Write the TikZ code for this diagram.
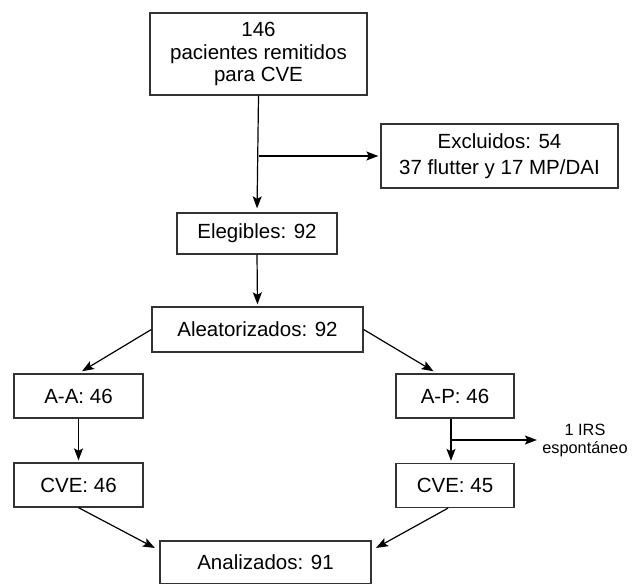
\documentclass[tikz,border=0pt]{standalone}
\usepackage{fontspec}
\setmainfont{Liberation Sans}
\usetikzlibrary{arrows.meta}
\tikzset{etapa/.style={draw=black!80, line width=1.3pt, minimum height=44pt, inner sep=0pt, align=center, font=\fontsize{20.5}{22.5}\selectfont},
         flecha/.style={-{Stealth[length=12pt,width=9pt,inset=2.5pt]}, line width=1.2pt, shorten >=2pt},
         nota/.style={align=center, font=\fontsize{16.3}{18}\selectfont},
        }

\begin{document}
\begin{tikzpicture}[x=1pt,y=-1pt]
        \useasboundingbox (0,0) rectangle (639,583);

        \node[etapa, minimum width=217pt, minimum height=82pt](rem)at(258.5,54){146\\pacientes remitidos\\para CVE};
        \node[etapa, minimum width=237pt, minimum height=64pt](exc)at(499.5,156){Excluidos: 54\\[3pt]37 flutter y 17 MP/DAI};
        \node[etapa, minimum width=160pt, minimum height=41pt](ele)at(257,233.5){Elegibles: 92};
        \node[etapa, minimum width=211pt, minimum height=45pt](ale)at(257.5,329.5){Aleatorizados: 92};

        \node[etapa, minimum width=129pt](aa)at(78.5,396){A-A: 46};
        \node[etapa, minimum width=118pt](ap)at(455,396){A-P: 46};
        \node[etapa, minimum width=129pt](cva)at(78.5,485){CVE: 46};
        \node[etapa, minimum width=118pt](cvp)at(455,485.5){CVE: 45};
        \node[nota](irs)at(585,440){1 IRS\\espontáneo};

        \node[etapa, minimum width=211pt, minimum height=43pt](ana)at(265.5,562.5){Analizados: 91};

        \coordinate(b1)at(rem.south |- exc.west);
        \coordinate(b2)at([xshift=-4pt]ap.south |- irs.west);

        \draw[flecha, shorten >=4pt](rem.south)--(ele.north);
        \draw[flecha](b1)--(exc.west);
        \draw[flecha](ele.south)--(ale.north);

        \draw[flecha, shorten >=4pt](ale.west)--(aa.north);
        \draw[flecha, shorten >=4pt](ale.east)--([xshift=-18pt]ap.north);

        \draw[flecha](aa.south)--(cva.north);
        \draw[flecha]([xshift=-4pt]ap.south)--([xshift=-4pt]cvp.north);
        \draw[flecha](b2)--(irs.west);

        \draw[flecha, shorten >=5pt](cva.south)--([yshift=-10pt]ana.north west);
        \draw[flecha, shorten >=5pt]([xshift=-7pt]cvp.south)--([yshift=-10pt]ana.north east);
    \end{tikzpicture}
\end{document}
